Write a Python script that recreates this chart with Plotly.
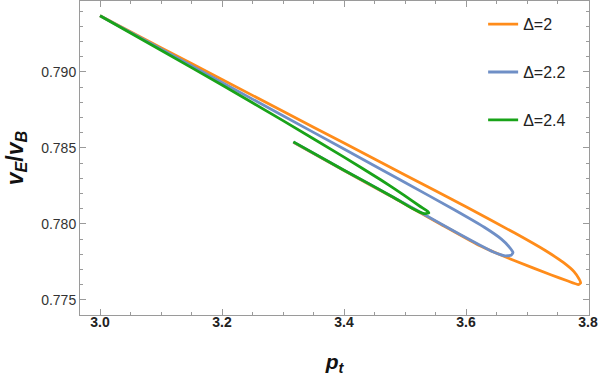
import plotly.graph_objects as go

# ---- data (p_t, v_E/v_B) ----
labels = ["Δ=2", "Δ=2.2", "Δ=2.4"]
colors = ["#FF8C1A", "#6F8FC6", "#19A319"]

p_d20 = [3.000, 3.100, 3.200, 3.300, 3.400, 3.500, 3.600, 3.680, 3.730, 3.760, 3.777, 3.785, 3.788,
         3.784, 3.766, 3.740, 3.680, 3.620, 3.560, 3.480, 3.400, 3.317]
v_d20 = [0.79370, 0.79160, 0.78951, 0.78741, 0.78532, 0.78322, 0.78113, 0.77940, 0.77825, 0.77745, 0.77686, 0.77640, 0.77612,
         0.77601, 0.77626, 0.77664, 0.77758, 0.77862, 0.77995, 0.78175, 0.78352, 0.78537]

p_d22 = [3.000, 3.100, 3.200, 3.300, 3.400, 3.500, 3.580, 3.630, 3.658, 3.671, 3.677,
         3.674, 3.664, 3.645, 3.620, 3.560, 3.480, 3.400, 3.317]
v_d22 = [0.79370, 0.79151, 0.78931, 0.78712, 0.78493, 0.78273, 0.78095, 0.77978, 0.77900, 0.77848, 0.77812,
         0.77794, 0.77790, 0.77815, 0.77866, 0.77998, 0.78178, 0.78354, 0.78539]

p_d24 = [3.000, 3.100, 3.200, 3.300, 3.400, 3.460, 3.500, 3.525, 3.537, 3.539,
         3.531, 3.510, 3.480, 3.400, 3.317]
v_d24 = [0.79370, 0.79143, 0.78914, 0.78680, 0.78440, 0.78291, 0.78185, 0.78115, 0.78084, 0.78073,
         0.78068, 0.78107, 0.78178, 0.78354, 0.78540]

series_p = [p_d20, p_d22, p_d24]
series_v = [v_d20, v_d22, v_d24]

x_ticks = [3.0, 3.2, 3.4, 3.6, 3.8]
y_ticks = [0.775, 0.780, 0.785, 0.790]

fig = go.Figure()
for i in range(3):
    fig.add_trace(go.Scatter(
        x=series_p[i], y=series_v[i], mode="lines", name=labels[i],
        legendgroup=labels[i],
        line=dict(color=colors[i], width=2.8, shape="spline", smoothing=0.4),
    ))

frame = "#9a9a9a"
fig.update_layout(
    width=598, height=376,
    margin=dict(l=80, r=9, t=1, b=61, autoexpand=False),
    paper_bgcolor="white", plot_bgcolor="white",
    font=dict(family="Liberation Sans, Arial, sans-serif", color="#333333"),
    showlegend=True,
    legend=dict(x=0.792, xanchor="left", y=0.98, yanchor="top",
                font=dict(size=16, color="#222222"),
                tracegroupgap=24, bgcolor="rgba(0,0,0,0)"),
)
fig.update_xaxes(
    automargin=False,
    range=[2.9672, 3.8016], tickvals=x_ticks, ticktext=[f"<b>{v:.1f}</b>" for v in x_ticks],
    showgrid=False, zeroline=False, showline=True, linecolor=frame, linewidth=1, mirror="allticks",
    ticks="inside", ticklen=6, tickcolor=frame, tickwidth=1,
    tickfont=dict(size=14, color="#222222"), ticklabelstandoff=-6,
    minor=dict(dtick=0.05, tick0=3.0, ticks="inside", ticklen=3, tickcolor=frame, showgrid=False),
    title=dict(text="<b><i>p<sub>t</sub></i></b>", font=dict(size=21, color="#111111"), standoff=28),
)
fig.update_yaxes(
    automargin=False,
    range=[0.77401, 0.79467], tickvals=y_ticks, tickformat=".3f",
    showgrid=False, zeroline=False, showline=True, linecolor=frame, linewidth=1, mirror="allticks",
    ticks="inside", ticklen=6, tickcolor=frame, tickwidth=1,
    tickfont=dict(size=14, color="#333333"),
    minor=dict(dtick=0.001, tick0=0.775, ticks="inside", ticklen=3, tickcolor=frame, showgrid=False),
    title=dict(text="<b><i>v<sub>E</sub></i>/<i>v<sub>B</sub></i></b>", font=dict(size=23, color="#111111"), standoff=11),
)

fig.write_html("out.html", config={"displayModeBar": False},
               post_script="document.body.style.margin='0px';")
